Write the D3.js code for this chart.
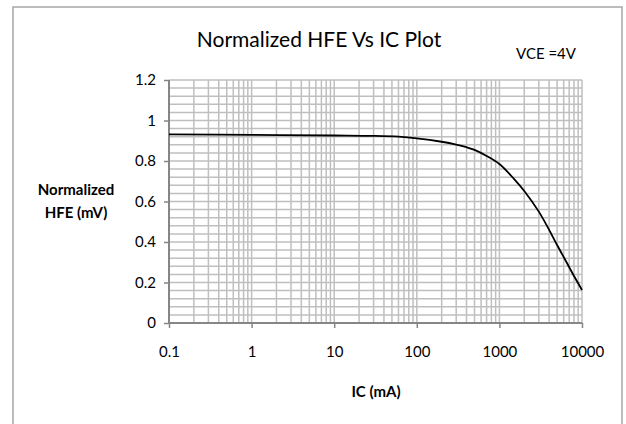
<!DOCTYPE html>
<html>
<head>
<meta charset="utf-8">
<script src="https://cdn.jsdelivr.net/npm/d3@7"></script>
<style>
  html, body { margin: 0; padding: 0; background: #fff; }
  svg { display: block; font-family: Lato, "Open Sans", sans-serif; }
</style>
</head>
<body>
<div id="chart"></div>
<script>
// IC (mA) and normalized HFE
const icValues = [0.1, 1, 10, 30, 60, 100, 200, 300, 400, 500, 700, 1000, 1500, 2000, 3000, 4000, 5000, 6500, 8000, 10000];
const hfeValues = [0.931, 0.929, 0.926, 0.924, 0.92, 0.912, 0.895, 0.881, 0.868, 0.855, 0.825, 0.785, 0.712, 0.652, 0.55, 0.46, 0.385, 0.30, 0.232, 0.163];
const xTicks = [0.1, 1, 10, 100, 1000, 10000];
const yTicks = [0, 0.2, 0.4, 0.6, 0.8, 1, 1.2];

const width = 626, height = 424;
const margin = { top: 80, right: 44, bottom: 101, left: 169 };
const innerW = width - margin.left - margin.right;
const innerH = height - margin.top - margin.bottom;

const svg = d3.select('#chart').append('svg')
  .attr('width', width)
  .attr('height', height);

// outer frame
svg.append('rect')
  .attr('x', 13).attr('y', 7)
  .attr('width', 609).attr('height', 430)
  .attr('fill', 'none')
  .attr('stroke', '#a6a6a6')
  .attr('stroke-width', 1.5);

const g = svg.append('g')
  .attr('transform', `translate(${margin.left},${margin.top})`);

const x = d3.scaleLog().domain([0.1, 10000]).range([0, innerW]);
const y = d3.scaleLinear().domain([0, 1.2]).range([innerH, 0]);

// minor + major vertical gridlines (log)
const xGrid = [];
for (let e = -1; e < 4; e++) {
  for (let m = 1; m <= 9; m++) xGrid.push(m * Math.pow(10, e));
}
xGrid.push(10000);
g.append('g').selectAll('line')
  .data(xGrid)
  .enter().append('line')
  .attr('x1', d => x(d)).attr('x2', d => x(d))
  .attr('y1', 0).attr('y2', innerH)
  .attr('stroke', '#bfbfbf')
  .attr('stroke-width', 1.5);

// horizontal gridlines every 0.04
const yGrid = d3.range(1, 31).map(i => i * 0.04);
g.append('g').selectAll('line')
  .data(yGrid)
  .enter().append('line')
  .attr('x1', 0).attr('x2', innerW)
  .attr('y1', d => y(d)).attr('y2', d => y(d))
  .attr('stroke', '#bfbfbf')
  .attr('stroke-width', 1.5);

// axes
const yAxis = g.append('g')
  .call(d3.axisLeft(y).tickValues(yTicks).tickFormat(d3.format('')).tickSize(5).tickPadding(8));
const xAxis = g.append('g')
  .attr('transform', `translate(0,${innerH})`)
  .call(d3.axisBottom(x).tickValues(xTicks).tickFormat(d => String(d)).tickSize(5).tickPadding(18));

svg.selectAll('.domain')
  .attr('stroke', '#868686')
  .attr('stroke-width', 2);
svg.selectAll('.tick line')
  .attr('stroke', '#868686')
  .attr('stroke-width', 1.5);
yAxis.selectAll('.domain').attr('d', `M0,0V${innerH}`);
xAxis.selectAll('.domain').attr('d', `M0,0H${innerW}`);
svg.selectAll('.tick text')
  .attr('fill', '#000')
  .style('font-size', '15px')
  .style('font-family', 'Lato, sans-serif');

// curve
const pts = icValues.map((v, i) => [v, hfeValues[i]]);
g.append('path')
  .datum(pts)
  .attr('fill', 'none')
  .attr('stroke', '#000')
  .attr('stroke-width', 1.8)
  .attr('d', d3.line().x(d => x(d[0])).y(d => y(d[1])).curve(d3.curveCatmullRom.alpha(0.5)));

// titles
svg.append('text')
  .attr('x', 319).attr('y', 47)
  .attr('text-anchor', 'middle')
  .style('font-size', '21px')
  .text('Normalized HFE Vs IC Plot');

svg.append('text')
  .attr('x', 546).attr('y', 59)
  .attr('text-anchor', 'middle')
  .style('font-size', '15px')
  .text('VCE =4V');

svg.append('text')
  .attr('x', 376).attr('y', 397)
  .attr('text-anchor', 'middle')
  .style('font-size', '15px')
  .style('font-weight', 'bold')
  .text('IC (mA)');

const yTitle = svg.append('text')
  .attr('text-anchor', 'middle')
  .style('font-size', '15px')
  .style('font-weight', 'bold');
yTitle.append('tspan').attr('x', 76).attr('y', 195).text('Normalized');
yTitle.append('tspan').attr('x', 76).attr('y', 218).text('HFE (mV)');
</script>
</body>
</html>
